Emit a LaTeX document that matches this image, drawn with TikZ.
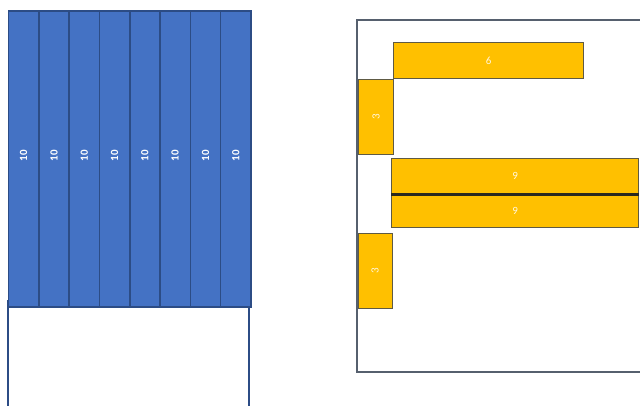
\documentclass[tikz,border=0pt]{standalone}
\usepackage{fontspec}
\setmainfont{Carlito}
\usetikzlibrary{calc}
\begin{document}
\begin{tikzpicture}[x=1pt,y=-1pt,
  strip/.style={draw=stripedge,fill=stripblue,line width=1.6pt,minimum width=30.3pt,minimum height=296pt,inner sep=0pt,anchor=north west},
  striplabel/.style={text=white,font=\fontsize{11}{12}\selectfont\bfseries,rotate=90},
  bar/.style={draw=bardark,fill=gold,line width=1.3pt,inner sep=0pt,anchor=north west},
  barlabel/.style={text=white!88!gold,font=\fontsize{11}{12}\selectfont},
  frame/.style={draw=framegray,line width=1.3pt}]
\definecolor{stripblue}{HTML}{4472C4}
\definecolor{stripedge}{HTML}{2C4C85}
\definecolor{gold}{HTML}{FFC000}
\definecolor{bardark}{HTML}{5E5A44}
\definecolor{framegray}{HTML}{56606E}
\useasboundingbox (0,0) rectangle (640,405);
\clip (0,0) rectangle (640,405);
% left box
\draw[draw=stripedge,line width=1.4pt] (8,300) -- (8,410) (249,300) -- (249,410);
\foreach \i in {0,...,7} {
  \node[strip] (s\i) at ({7.7+30.3*\i},10) {};
  \node[striplabel] (l\i) at ($(s\i.center)+(0,-3)$) {10};
}
% right frame
\draw[frame] (645,20) -- (357,20) -- (357,372) -- (645,372);
\node[bar,minimum width=190pt,minimum height=36pt] (b6) at (393,42) {};
\node[barlabel] (t6) at (b6.center) {6};
\node[bar,minimum width=35pt,minimum height=75pt] (m1) at (358,79) {};
\node[barlabel,rotate=90] (t1) at (m1.center) {3};
\node[bar,minimum width=247pt,minimum height=35pt] (b9a) at (391,158) {};
\node[barlabel] (t9a) at (b9a.center) {9};
\node[bar,minimum width=247pt,minimum height=34pt] (b9b) at (391,193) {};
\node[barlabel] (t9b) at (b9b.center) {9};
\draw[draw=black!55!bardark,line width=3pt] (b9a.south west) -- (b9a.south east);
\node[bar,minimum width=34pt,minimum height=75pt] (m2) at (357.5,233) {};
\node[barlabel,rotate=90] (t2) at (m2.center) {3};
\end{tikzpicture}
\end{document}
